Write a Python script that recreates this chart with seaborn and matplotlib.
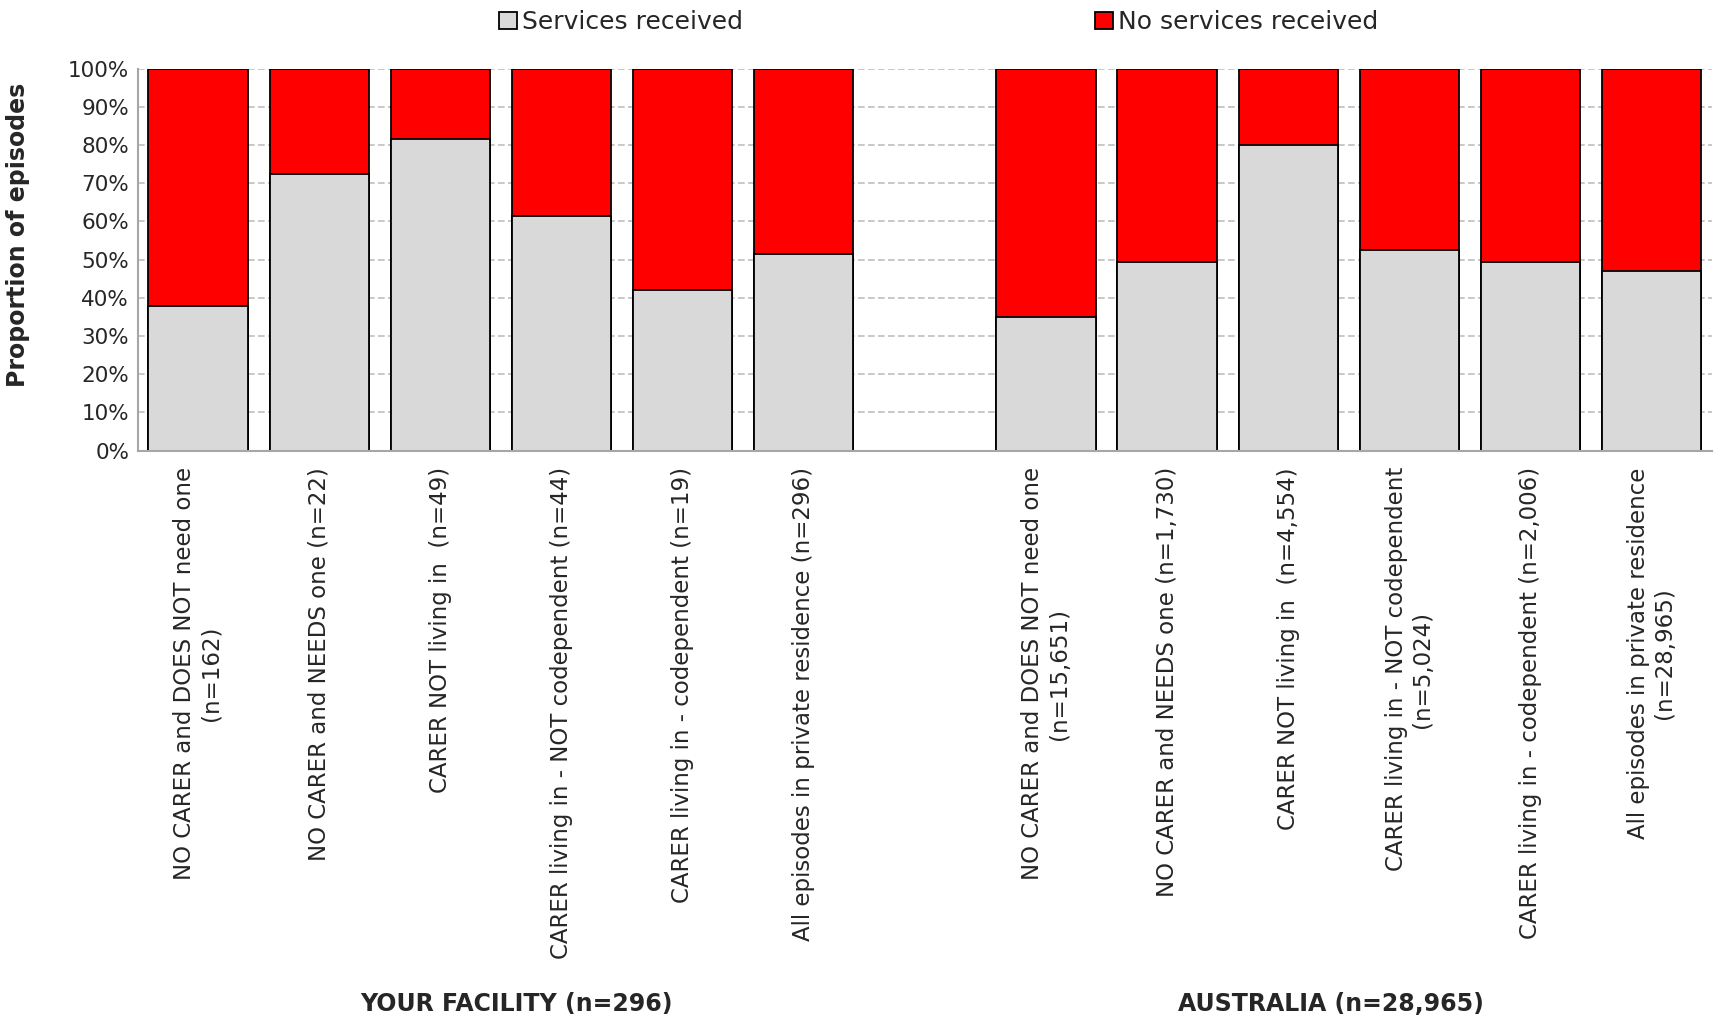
"""
plot.py
-------
Stacked 100% bars: services received vs not, by carer status.
"""

import pandas as pd
import matplotlib.pyplot as plt
import matplotlib.transforms as mtransforms
import seaborn as sns

facility_labels = [
    "NO CARER and DOES NOT need one\n(n=162)",
    "NO CARER and NEEDS one (n=22)",
    "CARER NOT living in  (n=49)",
    "CARER living in - NOT codependent (n=44)",
    "CARER living in - codependent (n=19)",
    "All episodes in private residence (n=296)",
]
australia_labels = [
    "NO CARER and DOES NOT need one\n(n=15,651)",
    "NO CARER and NEEDS one (n=1,730)",
    "CARER NOT living in  (n=4,554)",
    "CARER living in - NOT codependent\n(n=5,024)",
    "CARER living in - codependent (n=2,006)",
    "All episodes in private residence\n(n=28,965)",
]
facility_received = [37.9, 72.4, 81.5, 61.5, 42.1, 51.4]
australia_received = [34.9, 49.3, 79.9, 52.4, 49.3, 46.9]
group_titles = ["YOUR FACILITY (n=296)", "AUSTRALIA (n=28,965)"]

# slot 6 left empty as a gap between the two groups
positions = list(range(6)) + list(range(7, 13))
df = pd.DataFrame({
    "pos": positions,
    "label": facility_labels + australia_labels,
    "received": facility_received + australia_received,
})
df["total"] = 100.0

sns.set_style("white")
plt.rcParams["font.family"] = ["DejaVu Sans"]

fig = plt.figure(figsize=(17.19, 10.24), dpi=100)
ax = fig.add_axes([0.080, 0.560, 0.916, 0.373])

sns.barplot(data=df, x="pos", y="total", native_scale=True, width=0.82,
            color="#ff0000", edgecolor="black", linewidth=1.3, ax=ax,
            label="No services received", saturation=1)
sns.barplot(data=df, x="pos", y="received", native_scale=True, width=0.82,
            color="#d9d9d9", edgecolor="black", linewidth=1.3, ax=ax,
            label="Services received", saturation=1)

ax.set_xlim(-0.5, 12.43)
ax.set_ylim(0, 100)
ax.set_yticks(range(0, 101, 10))
ax.set_yticklabels([f"{v}%" for v in range(0, 101, 10)], fontsize=15.5)
ax.yaxis.grid(True, linestyle=(0, (4, 2)), color="#bfbfbf", linewidth=1.2)
ax.set_axisbelow(True)

ax.set_xticks(df["pos"])
ax.set_xticklabels(df["label"], rotation=90, va="top", ha="center",
                   fontsize=16.5, multialignment="center")
ax.tick_params(axis="x", length=0, pad=12)
ax.tick_params(axis="y", length=0, pad=6)
ax.set_xticks([p + 0.5 for p in range(-1, 13)], minor=True)
ax.tick_params(axis="x", which="minor", length=5, color="#808080")

ax.set_xlabel("")
ax.set_ylabel("Proportion of episodes", fontsize=17, fontweight="bold")
ax.yaxis.set_label_coords(-0.068, 0.565)

for side in ["top", "right"]:
    ax.spines[side].set_visible(False)
for side in ["left", "bottom"]:
    ax.spines[side].set_color("#a6a6a6")
    ax.spines[side].set_linewidth(1.5)

# group titles under each half
trans = mtransforms.blended_transform_factory(ax.transData, fig.transFigure)
for xc, title in zip([2.63, 9.35], group_titles):
    ax.text(xc, 0.008, title, transform=trans, fontsize=17,
            fontweight="bold", ha="center", va="bottom")

handles, labels = ax.get_legend_handles_labels()
if ax.get_legend():
    ax.get_legend().remove()
order = [labels.index("Services received"), labels.index("No services received")]
fig.legend([handles[i] for i in order], [labels[i] for i in order],
           loc="upper center", bbox_to_anchor=(0.546, 1.012), ncol=2,
           frameon=False, fontsize=18, columnspacing=14.1,
           handlelength=0.7, handleheight=0.7, handletextpad=0.2)

fig.savefig("out.png", dpi=100)
